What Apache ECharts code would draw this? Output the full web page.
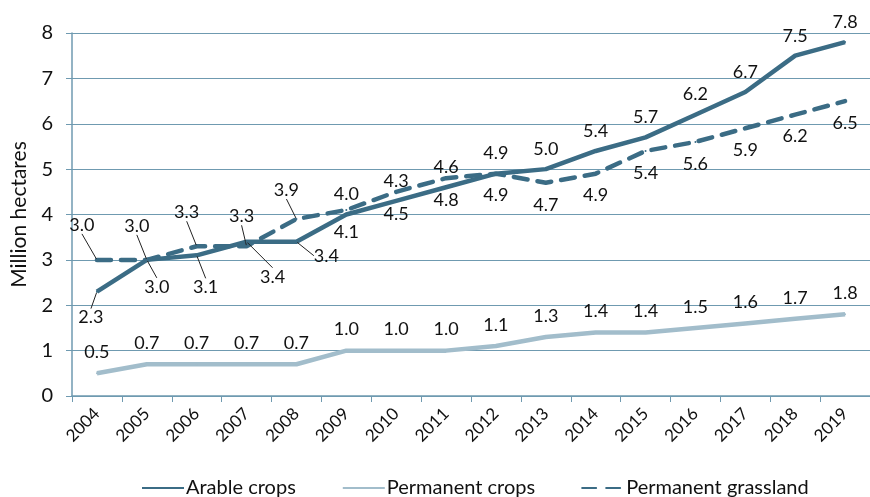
<!DOCTYPE html>
<html>
<head>
<meta charset="utf-8">
<script src="https://cdn.jsdelivr.net/npm/echarts@6/dist/echarts.min.js"></script>
<style>
  html, body { margin: 0; padding: 0; background: #fff; }
  #chart { width: 870px; height: 497px; }
</style>
</head>
<body>
<div id="chart"></div>
<script>
// Agricultural area by land use, million hectares
const years = ['2004','2005','2006','2007','2008','2009','2010','2011','2012','2013','2014','2015','2016','2017','2018','2019'];
const arableCrops = [2.3, 3.0, 3.1, 3.4, 3.4, 4.0, 4.3, 4.6, 4.9, 5.0, 5.4, 5.7, 6.2, 6.7, 7.5, 7.8];
const permanentCrops = [0.5, 0.7, 0.7, 0.7, 0.7, 1.0, 1.0, 1.0, 1.1, 1.3, 1.4, 1.4, 1.5, 1.6, 1.7, 1.8];
const permanentGrassland = [3.0, 3.0, 3.3, 3.3, 3.9, 4.1, 4.5, 4.8, 4.9, 4.7, 4.9, 5.4, 5.6, 5.9, 6.2, 6.5];
const yTicks = [0, 1, 2, 3, 4, 5, 6, 7, 8];

const DARK = '#3b6c85';
const LIGHT = '#a2bdcb';
const GRID = '#6f9ab0';
const FONT = 'Lato, "Open Sans", sans-serif';

// Labels in the crowded 2004-2008 stretch are pulled away from the lines
// and tied back with leader lines: [dx, dy] from the point.
const arableLabelShift = { 0: [-6, 26], 1: [10, 27], 2: [9, 32], 3: [26, 35], 4: [30, 14] };
const grassLabelShift = { 0: [-15, -35], 1: [-10, -34], 2: [-10, -34], 3: [-5, -30], 4: [-10, -29] };

function withLeaders(values, shifts) {
  return values.map(function (v, i) {
    if (!shifts[i]) return v;
    return {
      value: v,
      label: { position: 'inside' },
      labelLine: { show: true, length2: 0, lineStyle: { color: '#222', width: 1 } }
    };
  });
}
function shiftLayout(shifts) {
  return function (params) {
    const s = shifts[params.dataIndex];
    return s ? { dx: s[0], dy: s[1] } : {};
  };
}

const labelBase = {
  show: true,
  color: '#111',
  fontFamily: FONT,
  fontSize: 18,
  formatter: function (p) { return Number(p.value).toFixed(1); }
};

const chart = echarts.init(document.getElementById('chart'), null, { renderer: 'canvas' });
chart.setOption({
  animation: false,
  textStyle: { fontFamily: FONT },
  grid: { left: 72, right: 0, top: 33, bottom: 101, containLabel: false },
  legend: {
    bottom: -6,
    left: 136,
    itemWidth: 42,
    itemHeight: 10,
    itemGap: 46,
    itemStyle: { opacity: 0 },
    textStyle: { fontFamily: FONT, fontSize: 20, color: '#111', padding: [0, 0, 0, -3] },
    data: ['Arable crops', 'Permanent crops', 'Permanent grassland']
  },
  xAxis: {
    type: 'category',
    data: years,
    boundaryGap: true,
    axisLine: { lineStyle: { color: GRID, width: 1.5 } },
    axisTick: { show: true, length: 6, lineStyle: { color: GRID } },
    axisLabel: { rotate: 45, margin: 15, fontSize: 17, color: '#111', fontFamily: FONT, interval: 0 }
  },
  yAxis: {
    type: 'value',
    min: yTicks[0],
    max: yTicks[yTicks.length - 1],
    interval: 1,
    name: 'Million hectares',
    nameLocation: 'middle',
    nameRotate: 90,
    nameGap: 42,
    nameTextStyle: { fontSize: 21, color: '#111', fontFamily: FONT },
    axisLine: { show: true, lineStyle: { color: GRID, width: 1.5 } },
    axisTick: { show: true, length: 6, lineStyle: { color: GRID } },
    splitLine: { lineStyle: { color: GRID, width: 1 } },
    axisLabel: { margin: 19, fontSize: 20, color: '#111', fontFamily: FONT }
  },
  series: [
    {
      name: 'Arable crops',
      type: 'line',
      data: withLeaders(arableCrops, arableLabelShift),
      symbol: 'circle',
      symbolSize: 2,
      showSymbol: true,
      itemStyle: { color: DARK },
      lineStyle: { color: DARK, width: 4.5 },
      label: Object.assign({}, labelBase, { position: 'top', distance: 10 }),
      labelLayout: shiftLayout(arableLabelShift),
      z: 3
    },
    {
      name: 'Permanent crops',
      type: 'line',
      data: permanentCrops,
      symbol: 'circle',
      symbolSize: 2,
      showSymbol: true,
      itemStyle: { color: LIGHT },
      lineStyle: { color: LIGHT, width: 4.5 },
      label: Object.assign({}, labelBase, { position: 'top', distance: 11 }),
      z: 2
    },
    {
      name: 'Permanent grassland',
      type: 'line',
      data: withLeaders(permanentGrassland, grassLabelShift),
      symbol: 'circle',
      symbolSize: 2,
      showSymbol: true,
      itemStyle: { color: DARK },
      lineStyle: { color: DARK, width: 4.5, type: [14, 10], cap: 'round' },
      label: Object.assign({}, labelBase, { position: 'bottom', distance: 12 }),
      labelLayout: shiftLayout(grassLabelShift),
      z: 3
    }
  ]
});
</script>
</body>
</html>
